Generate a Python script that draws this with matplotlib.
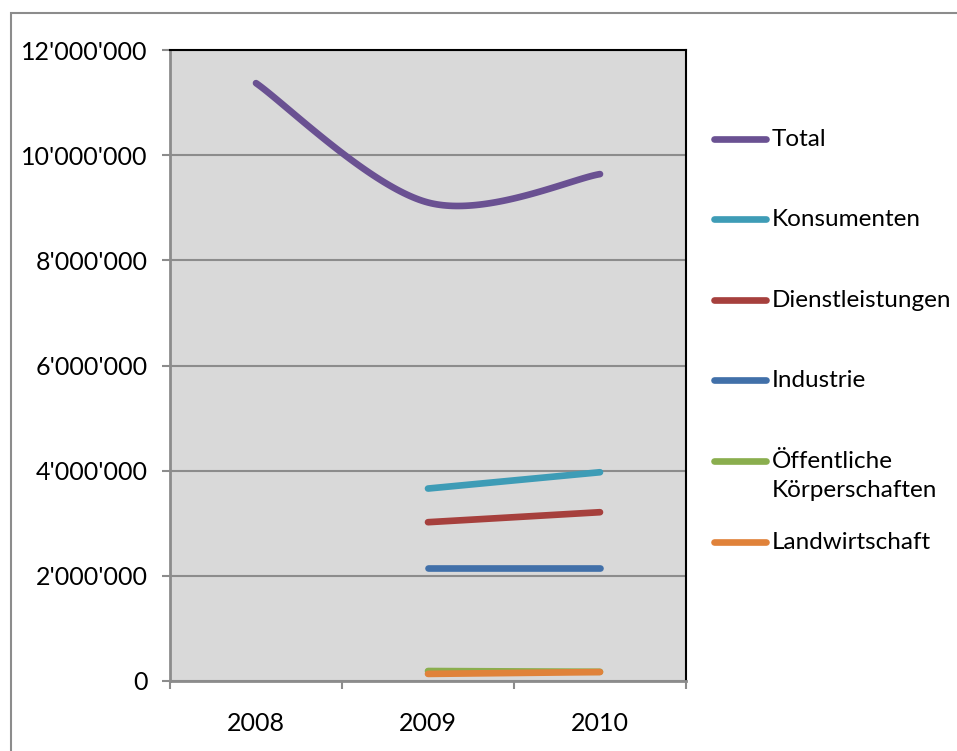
import matplotlib
matplotlib.use("Agg")
import matplotlib.pyplot as plt
import numpy as np
from matplotlib.lines import Line2D
from matplotlib.patches import Rectangle
from matplotlib.ticker import FuncFormatter

# data
years = ["2008", "2009", "2010"]
series_names = ["Total", "Konsumenten", "Dienstleistungen", "Industrie",
                "Öffentliche\nKörperschaften", "Landwirtschaft"]
total = [11370000, 9100000, 9640000]
konsumenten = [None, 3660000, 3970000]
dienstleistungen = [None, 3020000, 3210000]
industrie = [None, 2150000, 2150000]
oeffentliche = [None, 190000, 175000]
landwirtschaft = [None, 135000, 170000]
colors = ["#6A5192", "#3E9CB6", "#A6403D", "#4170A9", "#8AAE4E", "#E0823A"]

plt.rcParams["font.family"] = ["Lato", "DejaVu Sans"]


def smooth(xs, ys, n=60):
    # Catmull-Rom spline through the points (Excel "smoothed line")
    xs = np.asarray(xs, float)
    ys = np.asarray(ys, float)
    if len(xs) < 3:
        return xs, ys
    px = np.concatenate([[xs[0]], xs, [xs[-1]]])
    py = np.concatenate([[ys[0]], ys, [ys[-1]]])
    out_x, out_y = [], []
    for i in range(1, len(px) - 2):
        t = np.linspace(0, 1, n)
        h00 = 2 * t**3 - 3 * t**2 + 1
        h10 = t**3 - 2 * t**2 + t
        h01 = -2 * t**3 + 3 * t**2
        h11 = t**3 - t**2
        m0x, m1x = (px[i + 1] - px[i - 1]) / 2, (px[i + 2] - px[i]) / 2
        m0y, m1y = (py[i + 1] - py[i - 1]) / 2, (py[i + 2] - py[i]) / 2
        out_x.append(h00 * px[i] + h10 * m0x + h01 * px[i + 1] + h11 * m1x)
        out_y.append(h00 * py[i] + h10 * m0y + h01 * py[i + 1] + h11 * m1y)
    return np.concatenate(out_x), np.concatenate(out_y)


fig = plt.figure(figsize=(9.57, 7.51), dpi=100)
fig.patches.append(Rectangle((10.5 / 957, -0.1), 2, 1.1 - 12.5 / 751,
                             transform=fig.transFigure, fill=False,
                             edgecolor="#8C8C8C", linewidth=1.5))
ax = fig.add_axes([170 / 957, 1 - 681 / 751, 516 / 957, 631 / 751])
ax.set_facecolor("#D9D9D9")

all_series = [total, konsumenten, dienstleistungen, industrie,
              oeffentliche, landwirtschaft]
x_pos = np.arange(1, len(years) + 1)
for vals, col in zip(all_series, colors):
    pts = [(x, v) for x, v in zip(x_pos, vals) if v is not None]
    sx, sy = smooth([p[0] for p in pts], [p[1] for p in pts])
    ax.plot(sx, sy, color=col, linewidth=4.8, solid_capstyle="round", zorder=3)

ax.set_xlim(0.5, 3.5)
ax.set_ylim(0, 12000000)
ax.set_yticks(np.arange(0, 12000001, 2000000))
ax.yaxis.set_major_formatter(FuncFormatter(lambda v, p: f"{int(v):,}".replace(",", "'")))
ax.grid(axis="y", color="#8C8C8C", linewidth=1.5)
ax.set_axisbelow(True)

ax.set_xticks([0.5, 1.5, 2.5, 3.5])
ax.set_xticklabels([])
ax.set_xticks(x_pos, minor=True)
ax.set_xticklabels(years, minor=True)
ax.tick_params(axis="x", which="minor", length=0, pad=22, labelsize=18)
ax.tick_params(axis="x", which="major", length=6, width=1.5, color="#8C8C8C")
ax.tick_params(axis="y", length=6, width=1.5, color="#8C8C8C", pad=10, labelsize=18)

for s in ["left", "bottom"]:
    ax.spines[s].set_color("#8C8C8C")
    ax.spines[s].set_linewidth(2)
for s in ["top", "right"]:
    ax.spines[s].set_color("black")
    ax.spines[s].set_linewidth(1.5)

# legend drawn by hand to match the evenly spaced layout
legend_y = [139, 219, 300, 380, 461, 542]
for name, col, yy in zip(series_names, colors, legend_y):
    fy = 1 - yy / 751
    fig.add_artist(Line2D([714 / 957, 766 / 957], [fy, fy], color=col,
                          linewidth=4.8, solid_capstyle="round",
                          transform=fig.transFigure))
    fig.text(772 / 957, fy + 10 / 751, name, fontsize=17.5, va="top",
             ha="left", linespacing=1.45)

fig.savefig("out.png", dpi=100)
